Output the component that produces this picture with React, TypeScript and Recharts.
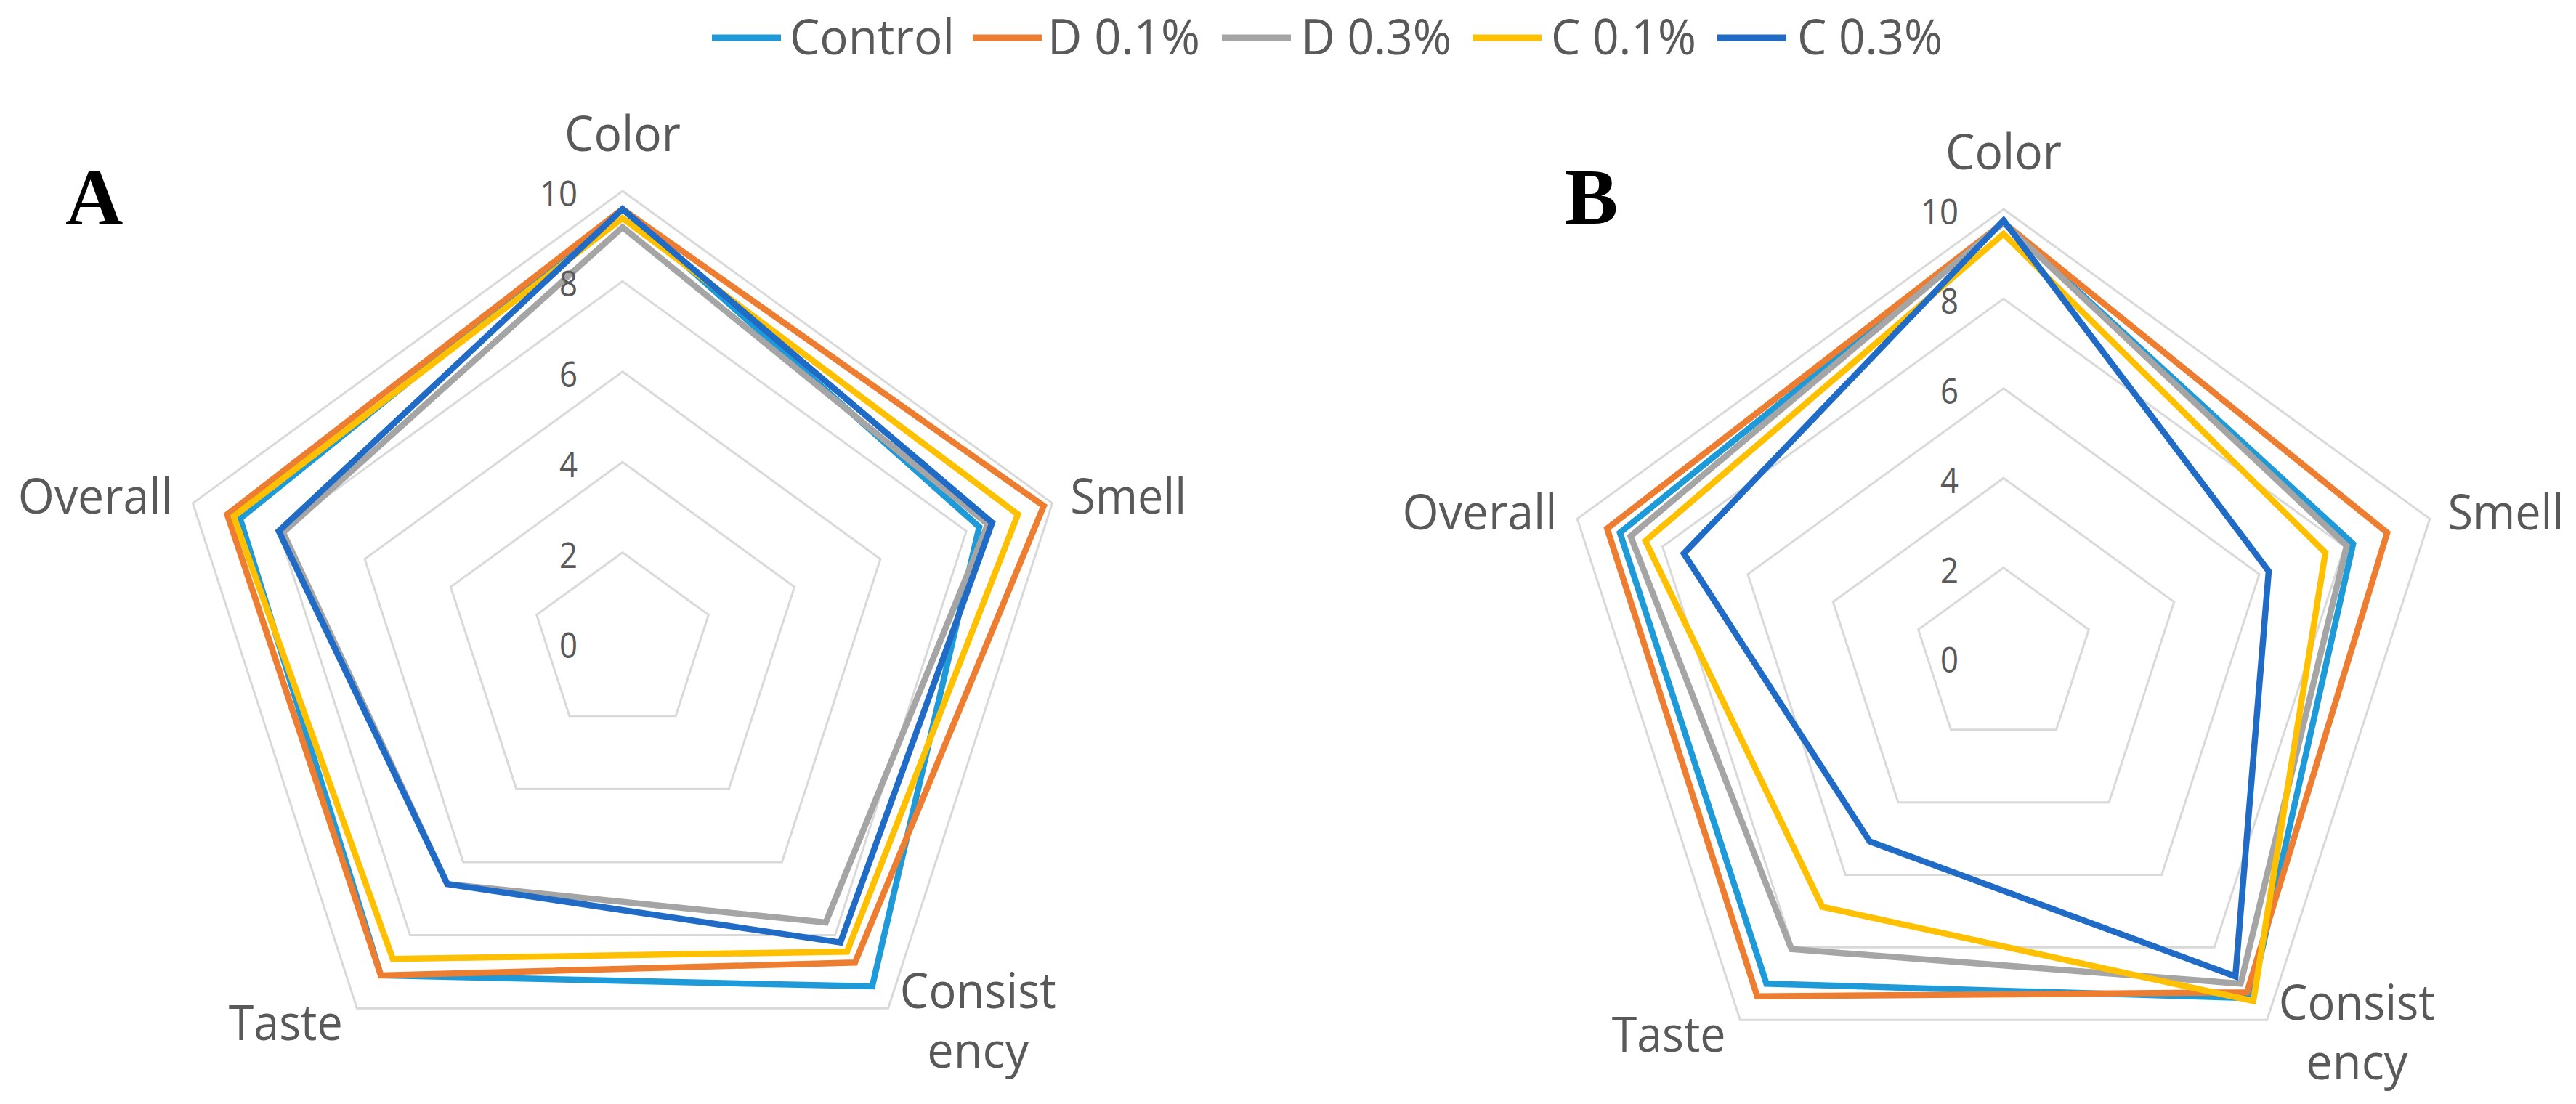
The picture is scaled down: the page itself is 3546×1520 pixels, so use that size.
import React from "react";
import { RadarChart, Radar, PolarGrid, PolarAngleAxis, PolarRadiusAxis } from "recharts";

// ---- data ----
const categories = ["Color", "Smell", "Consistency", "Taste", "Overall"];
const seriesNames = ["Control", "D 0.1%", "D 0.3%", "C 0.1%", "C 0.3%"];
const seriesKeys = ["control", "d01", "d03", "c01", "c03"];
const radiusTicks = [0, 2, 4, 6, 8, 10];

// Panel A
const aControl = [9.6, 8.3, 9.4, 9.1, 8.9];
const aD01 = [9.6, 9.8, 8.75, 9.1, 9.2];
const aD03 = [9.2, 8.5, 7.65, 6.6, 7.9];
const aC01 = [9.4, 9.2, 8.45, 8.65, 9.05];
const aC03 = [9.6, 8.6, 8.2, 6.6, 8.0];

// Panel B
const bControl = [9.7, 8.2, 9.4, 9.0, 9.0];
const bD01 = [9.7, 9.0, 9.24, 9.35, 9.3];
const bD03 = [9.7, 8.05, 9.0, 8.05, 8.75];
const bC01 = [9.45, 7.55, 9.48, 6.88, 8.4];
const bC03 = [9.75, 6.22, 8.8, 5.08, 7.5];

// ---- styles ----
const colors = ["#1E9AD8", "#ED7D31", "#A5A5A5", "#FFC000", "#1F6BC6"];
const FONT = "'Open Sans', 'Noto Sans', 'Liberation Sans', sans-serif";
const TEXT = "#595959";

function buildRows(series: number[][]) {
  return categories.map((c, i) => {
    const row: any = { axis: c };
    seriesKeys.forEach((k, s) => {
      row[k] = series[s][i];
    });
    return row;
  });
}

const dataA = buildRows([aControl, aD01, aD03, aC01, aC03]);
const dataB = buildRows([bControl, bD01, bD03, bC01, bC03]);

// label placement relative to tick anchor (layout only)
const labelPlace: Record<string, { dx: number; dy: number; anchor: string; lines: string[]; widths: number[] }> = {
  Color: { dx: 0, dy: -47, anchor: "middle", lines: ["Color"], widths: [160] },
  Smell: { dx: 17, dy: 17, anchor: "start", lines: ["Smell"], widths: [160] },
  Consistency: { dx: 119, dy: -7, anchor: "middle", lines: ["Consist", "ency"], widths: [215, 140] },
  Taste: { dx: -15, dy: 37, anchor: "end", lines: ["Taste"], widths: [157] },
  Overall: { dx: -20, dy: 17, anchor: "end", lines: ["Overall"], widths: [213] },
};

const AngleTick = (props: any) => {
  const { x, y, payload } = props;
  const p = labelPlace[payload.value];
  if (!p) return null;
  const tx = x + p.dx;
  const ty = y + p.dy;
  return (
    <text
      x={tx}
      y={ty}
      textAnchor={p.anchor as any}
      fontFamily={FONT}
      fontSize={68}
      fill={TEXT}
    >
      {p.lines.map((ln, i) => (
        <tspan key={i} x={tx} dy={i === 0 ? 0 : 82} textLength={p.widths[i]} lengthAdjust="spacingAndGlyphs">
          {ln}
        </tspan>
      ))}
    </text>
  );
};

const RadiusTick = (props: any) => {
  const { x, y, payload } = props;
  const s = String(payload.value);
  return (
    <text
      x={x - 62}
      y={y + 2}
      textAnchor="end"
      dominantBaseline="central"
      fontFamily={FONT}
      fontSize={50}
      fill={TEXT}
      textLength={s.length > 1 ? 52 : 25}
      lengthAdjust="spacingAndGlyphs"
    >
      {s}
    </text>
  );
};

function Panel({ data, cx, cy, r }: { data: any[]; cx: number; cy: number; r: number }) {
  return (
    <RadarChart width={1773} height={1520} data={data} cx={cx} cy={cy} outerRadius={r} margin={{ top: 0, right: 0, bottom: 0, left: 0 }}>
      <PolarGrid gridType="polygon" radialLines={false} stroke="#D9D9D9" strokeWidth={3} />
      <PolarAngleAxis dataKey="axis" tick={AngleTick} tickLine={false} axisLine={false} />
      <PolarRadiusAxis
        angle={90}
        type="number"
        domain={[0, 10]}
        ticks={radiusTicks as any}
        tickCount={radiusTicks.length}
        tick={RadiusTick}
        axisLine={false}
        tickLine={false}
      />
      {seriesKeys.map((k, i) => (
        <Radar
          key={k}
          name={seriesNames[i]}
          dataKey={k}
          stroke={colors[i]}
          strokeWidth={8.5}
          fill="none"
          fillOpacity={0}
          dot={false}
          isAnimationActive={false}
        />
      ))}
    </RadarChart>
  );
}

const legendLayout = [
  { line: 980, text: 1087, w: 227 },
  { line: 1339, text: 1442, w: 210 },
  { line: 1682, text: 1791, w: 207 },
  { line: 2027, text: 2135, w: 200 },
  { line: 2364, text: 2474, w: 200 },
];

function Legend() {
  return (
    <svg width={3546} height={120} style={{ position: "absolute", left: 0, top: 0 }}>
      {seriesNames.map((n, i) => (
        <g key={n}>
          <line x1={legendLayout[i].line} x2={legendLayout[i].line + 95} y1={52} y2={52} stroke={colors[i]} strokeWidth={9} />
          <text
            x={legendLayout[i].text}
            y={75}
            fontFamily={FONT}
            fontSize={68}
            fill={TEXT}
            textLength={legendLayout[i].w}
            lengthAdjust="spacingAndGlyphs"
          >
            {n}
          </text>
        </g>
      ))}
    </svg>
  );
}

export default function App() {
  return (
    <div style={{ position: "absolute", left: 0, top: 0, width: 3546, height: 1520, background: "#fff", overflow: "hidden" }}>
      <div style={{ position: "absolute", left: 0, top: 0 }}>
        <Panel data={dataA} cx={857} cy={885} r={622} />
      </div>
      <div style={{ position: "absolute", left: 1773, top: 0 }}>
        <Panel data={dataB} cx={985} cy={905} r={617} />
      </div>
      <Legend />
      <svg width={3546} height={400} style={{ position: "absolute", left: 0, top: 0, pointerEvents: "none" }}>
        <text x={90} y={309} fontFamily="'Liberation Serif', 'Times New Roman', serif" fontWeight="bold" fontSize={110} fill="#000">A</text>
        <text x={2154} y={308} fontFamily="'Liberation Serif', 'Times New Roman', serif" fontWeight="bold" fontSize={110} fill="#000">B</text>
      </svg>
    </div>
  );
}
